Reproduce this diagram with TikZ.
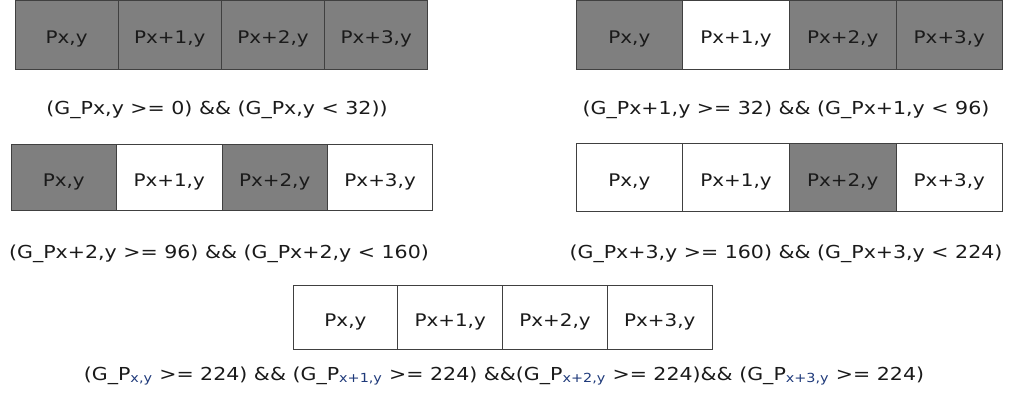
\documentclass[tikz,border=0pt]{standalone}
\usepackage{fontspec}
\setmainfont{DejaVu Sans}[FakeStretch=1.15]
\usepackage{xcolor}
\usetikzlibrary{positioning}
\definecolor{pixgray}{HTML}{7F7F7F}
\definecolor{pixline}{HTML}{404040}
\definecolor{pixtext}{HTML}{1A1A1A}
\definecolor{subblue}{HTML}{1F3A7A}
\tikzset{
  pixcell/.style={rectangle,draw=pixline,line width=0.6pt,inner sep=0pt,outer sep=0pt,text=pixtext,text height=14pt,text depth=0pt,font=\fontsize{13pt}{16pt}\selectfont},
  hit/.style={pixcell,fill=pixgray},
  miss/.style={pixcell,fill=white},
  cond/.style={inner sep=0pt,anchor=base,text=pixtext,font=\fontsize{13.4pt}{16pt}\selectfont}
}
\newcommand{\pxsub}[1]{\textsubscript{\textcolor{subblue}{#1}}}
\begin{document}
\begin{tikzpicture}[x=0.75pt,y=-0.75pt,node distance=0pt]
\useasboundingbox (0,0) rectangle (1009,394);
% row 1, left
\begin{scope}[every node/.append style={minimum width=77.4pt,minimum height=51.75pt}]
\node[hit,anchor=north west] (aa) at (15,0) {Px,y};
\node[hit,right=of aa] (ab) {Px+1,y};
\node[hit,right=of ab] (ac) {Px+2,y};
\node[hit,right=of ac] (ad) {Px+3,y};
\end{scope}
\node[cond] (ca) at (217,114) {(G\_Px,y >= 0) \&\& (G\_Px,y < 32))};
% row 1, right
\begin{scope}[every node/.append style={minimum width=80pt,minimum height=51.75pt}]
\node[hit,anchor=north west] (ba) at (576,0) {Px,y};
\node[miss,right=of ba] (bb) {Px+1,y};
\node[hit,right=of bb] (bc) {Px+2,y};
\node[hit,right=of bc] (bd) {Px+3,y};
\end{scope}
\node[cond] (cb) at (786,114) {(G\_Px+1,y >= 32) \&\& (G\_Px+1,y < 96)};
% row 2, left
\begin{scope}[every node/.append style={minimum width=79.1pt,minimum height=49.5pt}]
\node[hit,anchor=north west] (da) at (11,144) {Px,y};
\node[miss,right=of da] (db) {Px+1,y};
\node[hit,right=of db] (dc) {Px+2,y};
\node[miss,right=of dc] (dd) {Px+3,y};
\end{scope}
\node[cond] (cd) at (219,258) {(G\_Px+2,y >= 96) \&\& (G\_Px+2,y < 160)};
% row 2, right
\begin{scope}[every node/.append style={minimum width=80pt,minimum height=51pt}]
\node[miss,anchor=north west] (ea) at (576,143) {Px,y};
\node[miss,right=of ea] (eb) {Px+1,y};
\node[hit,right=of eb] (ec) {Px+2,y};
\node[miss,right=of ec] (ed) {Px+3,y};
\end{scope}
\node[cond] (ce) at (786,258) {(G\_Px+3,y >= 160) \&\& (G\_Px+3,y < 224)};
% row 3
\begin{scope}[every node/.append style={minimum width=78.6pt,minimum height=48pt}]
\node[miss,anchor=north west] (fa) at (293,285) {Px,y};
\node[miss,right=of fa] (fb) {Px+1,y};
\node[miss,right=of fb] (fc) {Px+2,y};
\node[miss,right=of fc] (fd) {Px+3,y};
\end{scope}
\node[cond] (cf) at (504,380) {(G\_P\pxsub{x,y} >= 224) \&\& (G\_P\pxsub{x+1,y} >= 224) \&\&(G\_P\pxsub{x+2,y} >= 224)\&\& (G\_P\pxsub{x+3,y} >= 224)};
\end{tikzpicture}
\end{document}
